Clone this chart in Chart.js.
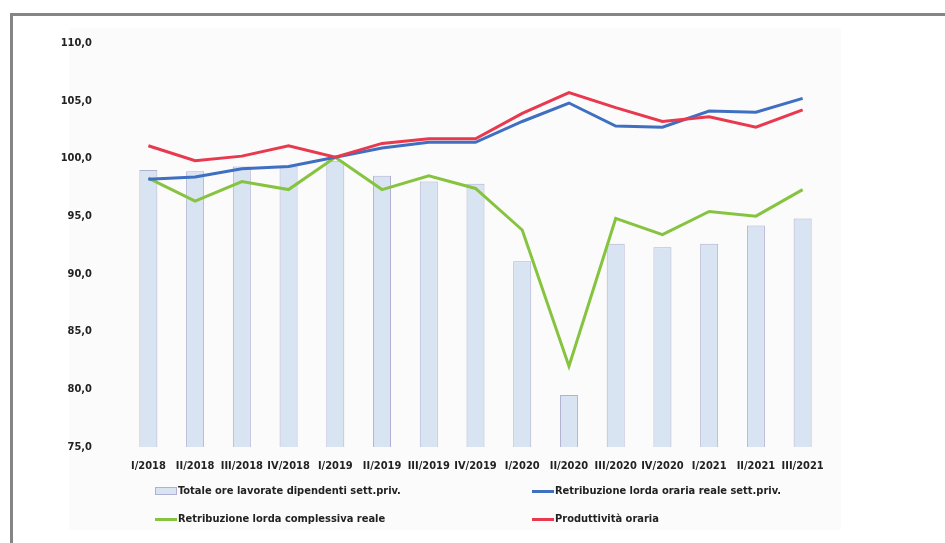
<!DOCTYPE html>
<html>
<head>
<meta charset="utf-8">
<script src="https://cdn.jsdelivr.net/npm/chart.js@4"></script>
<style>
  html, body { margin:0; padding:0; background:#fff; }
  #wrap { position:relative; width:945px; height:543px; overflow:hidden; }
  #frame { position:absolute; left:10px; top:13px; width:960px; height:560px; border-top:3px solid #858585; border-left:3px solid #858585; }
  #panel { position:absolute; left:69px; top:28px; width:772px; height:502px; background:#fbfbfb; }
  #chart { position:absolute; left:0; top:0; }
  .leg { position:absolute; font:bold 11px 'Liberation Sans Narrow','DejaVu Sans Condensed',sans-serif; color:#222; white-space:nowrap; line-height:14px; }
  .sw { display:inline-block; width:22px; vertical-align:middle; margin-right:1px; }
</style>
</head>
<body>
<div id="wrap">
  <div id="frame"></div>
  <div id="panel"></div>
  <canvas id="chart" width="945" height="543"></canvas>
  <div id="legend"></div>
</div>
<script>
const quarters = ['I/2018','II/2018','III/2018','IV/2018','I/2019','II/2019','III/2019','IV/2019',
  'I/2020','II/2020','III/2020','IV/2020','I/2021','II/2021','III/2021'];

const oreLavorate = [99.0, 98.9, 99.3, 99.3, 99.8, 98.5, 98.0, 97.8, 91.1, 79.5, 92.6, 92.3, 92.6, 94.2, 94.8];
const retribOraria = [98.2, 98.4, 99.1, 99.3, 100.1, 100.9, 101.4, 101.4, 103.2, 104.8, 102.8, 102.7, 104.1, 104.0, 105.2];
const retribComplessiva = [98.3, 96.3, 98.0, 97.3, 100.1, 97.3, 98.5, 97.4, 93.8, 82.0, 94.8, 93.4, 95.4, 95.0, 97.3];
const produttivita = [101.1, 99.8, 100.2, 101.1, 100.1, 101.3, 101.7, 101.7, 103.9, 105.7, 104.4, 103.2, 103.6, 102.7, 104.2];

const yTicks = [75, 80, 85, 90, 95, 100, 105, 110];

const BLUE = '#3f6fc1', RED = '#e8394f', GREEN = '#86c440';
const BAR_FILL = '#d8e4f2', BAR_EDGE = '#b0b0d2';
const fontFam = "'Liberation Sans Narrow','DejaVu Sans Condensed',sans-serif";

const datasets = [
  {type:'bar', label:'Totale ore lavorate dipendenti sett.priv.', data:oreLavorate,
   backgroundColor:BAR_FILL, borderColor:BAR_EDGE, borderWidth:1, barPercentage:0.77, categoryPercentage:0.5, order:4},
  {type:'line', label:'Retribuzione lorda oraria reale sett.priv.', data:retribOraria,
   borderColor:BLUE, borderWidth:3, pointRadius:0, tension:0, order:2},
  {type:'line', label:'Retribuzione lorda complessiva reale', data:retribComplessiva,
   borderColor:GREEN, borderWidth:3, pointRadius:0, tension:0, order:3},
  {type:'line', label:'Produttività oraria', data:produttivita,
   borderColor:RED, borderWidth:3, pointRadius:0, tension:0, order:1},
];

new Chart(document.getElementById('chart'), {
  data:{labels:quarters, datasets},
  options:{
    responsive:false, animation:false,
    layout:{padding:{left:5, right:119, top:43, bottom:0}},
    plugins:{legend:{display:false}, tooltip:{enabled:false}},
    scales:{
      x:{
        grid:{display:false, drawTicks:false}, border:{display:false},
        ticks:{font:{family:fontFam, size:11, weight:'bold'}, color:'#222', padding:13, maxRotation:0, autoSkip:false},
        afterFit:s=>{ s.height = 96; }
      },
      y:{
        min:75, max:110,
        afterBuildTicks:s=>{ s.ticks = yTicks.map(v=>({value:v})); },
        grid:{display:false, drawTicks:false}, border:{display:false},
        ticks:{font:{family:fontFam, size:11, weight:'bold'}, color:'#222', padding:33,
          callback:v=>v.toFixed(1).replace('.',',')},
        afterFit:s=>{ s.width = 120; }
      }
    }
  }
});

// legend in two columns, like the original
const legPos = [[155,484],[532,484],[155,512],[532,512]];
const legEl = document.getElementById('legend');
datasets.forEach((d,i)=>{
  const el = document.createElement('div');
  el.className = 'leg';
  el.style.left = legPos[i][0]+'px';
  el.style.top = legPos[i][1]+'px';
  const sw = d.type==='bar'
    ? `<span class="sw" style="height:6px;background:${BAR_FILL};border:1px solid ${BAR_EDGE};width:20px"></span>`
    : `<span class="sw" style="height:3px;background:${d.borderColor}"></span>`;
  el.innerHTML = sw + d.label;
  legEl.appendChild(el);
});
</script>
</body>
</html>
